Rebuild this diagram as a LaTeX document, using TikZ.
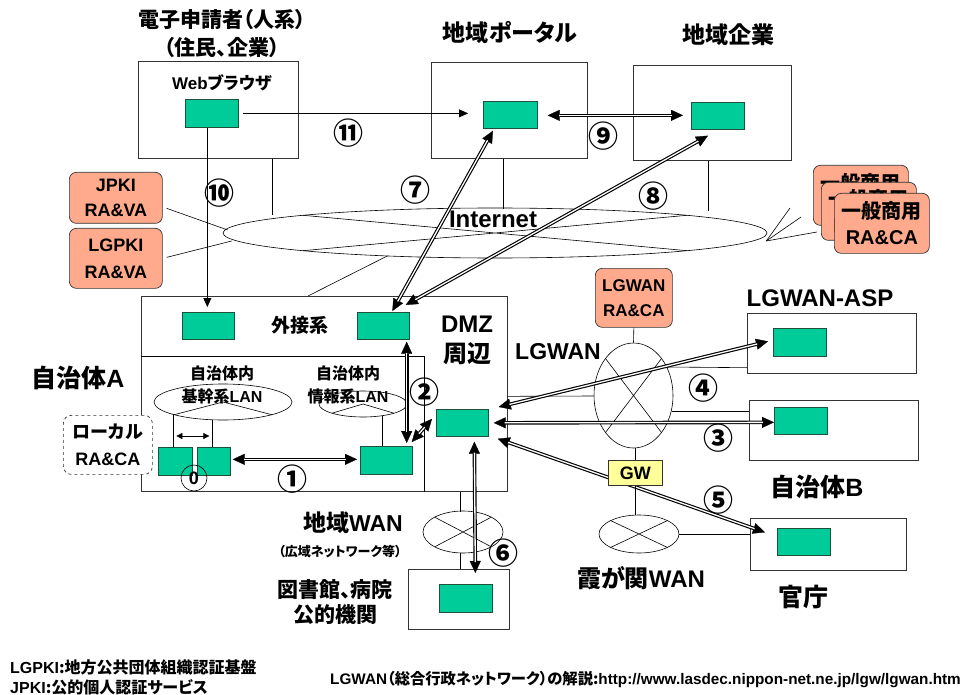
\documentclass[tikz,border=0pt]{standalone}
\usepackage{fontspec}
\setmainfont{Noto Sans CJK JP}[RawFeature=+palt]
\newfontfamily\la{Liberation Sans}
\usetikzlibrary{arrows.meta,calc,shapes.geometric}
\definecolor{grn}{RGB}{0,204,153}
\definecolor{sal}{RGB}{255,170,140}
\definecolor{ylw}{RGB}{255,255,153}
\newcommand\F[2]{\bfseries\fontsize{#1}{#2}\selectfont}
\newcommand\netx[3]{\draw[thinl] ($(#1.center)+(-#2,-#3)$) -- ($(#1.center)+(#2,#3)$) ($(#1.center)+(-#2,#3)$) -- ($(#1.center)+(#2,-#3)$);}
\begin{document}
\begin{tikzpicture}[x=1pt,y=-1pt,
  every node/.style={inner sep=0pt},
  wbox/.style={draw=black!80, line width=0.7pt, fill=white, anchor=north west},
  gbox/.style={draw={rgb,255:red,30;green,80;blue,60}, line width=0.7pt, fill=grn, anchor=north west, minimum width=53pt, minimum height=28pt},
  rbox/.style={draw=black!80, line width=0.7pt, fill=sal, rounded corners=7pt, anchor=north west, align=center},
  thinl/.style={line width=0.6pt},
  net/.style={draw, ellipse, line width=0.6pt},
  arr/.style={line width=0.7pt, -{Triangle[length=9pt,width=8pt,line width=0.3pt]}},
  dbl/.style={preaction={draw=black, line width=3.6pt, shorten <=0pt, shorten >=0pt,
      {Triangle[length=12pt,width=11pt,line width=0.3pt]}-{Triangle[length=12pt,width=11pt,line width=0.3pt]}},
    draw=white, line width=1.3pt, shorten <=11pt, shorten >=11pt},
  num/.style={font=\F{30}{30}},
  ]
\fill[white] (0,0) rectangle (961,695);
\useasboundingbox (0,0) rectangle (961,695);

% ---- Internet
\node[net, minimum width=544pt, minimum height=50pt] (inet) at (495,233) {};
\netx{inet}{192}{17.7}
\node[font=\la\F{24}{24}] (inettxt) at (493,219) {Internet};

% ---- top boxes
\node[font=\F{21}{28}, align=center] (t1) at (222,34) {電子申請者（人系）\\（住民、企業）};
\node[font=\F{23}{28}] (t2) at (510,33) {地域ポータル};
\node[font=\F{23}{28}] (t3) at (728,35) {地域企業};
\node[wbox, minimum width=160pt, minimum height=97pt] (web) at (138,61) {};
\node[font=\F{17}{20}] (wbt) at (222,83) {{\la Web}ブラウザ};
\node[gbox] (webg) at (185,99) {};
\node[wbox, minimum width=156pt, minimum height=96pt] (portal) at (431,62) {};
\node[gbox, minimum width=54pt, minimum height=27pt] (portalg) at (483,101) {};
\node[wbox, minimum width=158pt, minimum height=95pt] (ent) at (633,65) {};
\node[gbox, minimum height=27pt] (entg) at (691,102) {};

\draw[thinl] ($(web.south west)+(134,0)$) -- +(0,56);
\draw[thinl] ($(portal.south west)+(72,0)$) -- +(0,50);
\draw[thinl] ($(ent.south west)+(75,0)$) -- +(0,50);

% ---- PKI boxes
\node[rbox, minimum width=93pt, minimum height=51pt, font=\la\F{18}{25}] (jpki) at (69,172) {JPKI\\RA\&VA};
\node[rbox, minimum width=93pt, minimum height=60pt, font=\la\F{18}{27}] (lgpki) at (69,228) {LGPKI\\RA\&VA};
\draw[thinl] ($(jpki.east)+(4,10.5)$) -- ($(inet.west)+(5,-3)$);
\draw[thinl] ($(lgpki.east)+(4,-1)$) -- ($(inet.west)+(9,8)$);

% ---- commercial CA
\coordinate (fanA) at ($(inet.east)+(-1,8)$);
\draw[thinl] (fanA) -- (790,208);
\draw[thinl] (fanA) -- (801,217);
\draw[thinl] (fanA) -- (817,232);
\node[rbox, minimum width=95pt, minimum height=60pt, font=\F{20}{26}] (c1) at (813,165) {一般商用\\{\la RA\&CA}};
\node[rbox, minimum width=95pt, minimum height=58pt, font=\F{20}{26}] (c2) at (821,182) {一般商用\\{\la RA\&CA}};
\node[rbox, minimum width=95pt, minimum height=60pt, font=\F{20}{26}] (c3) at (834,193) {一般商用\\{\la RA\&CA}};

% ---- Jichitai A
\node[wbox, minimum width=366pt, minimum height=195pt] (ja) at (141,296) {};
\draw[thinl] ($(inet.south west)+(85,0)$) ++(0,5) -- ($(ja.north west)+(167,0)$);
\draw[thinl] ($(ja.north west)+(0,60)$) -- ($(ja.north west)+(283,60)$) -- ($(ja.south west)+(283,0)$);
\node[gbox, minimum width=52pt, minimum height=27pt] (gL) at (182,312) {};
\node[gbox, minimum width=52pt, minimum height=27pt] (gR) at (357,312) {};
\node[font=\F{19}{19}] (gais) at (300,325) {外接系};
\node[font=\F{25}{25}] (jatxt) at (78,378) {自治体{\la A}};
\node[font=\F{24}{30}, align=center] (dmz) at (467,340) {{\la DMZ}\\周辺};

\node[net, minimum width=138pt, minimum height=36pt] (lan1) at (223,402) {};
\draw[thinl] ($(lan1.center)+(-48.8,12.7)$) -- (lan1.center) -- ($(lan1.center)+(48.8,12.7)$);
\node[net, minimum width=88pt, minimum height=26pt] (lan2) at (363,404) {};
\draw[thinl] ($(lan2.center)+(-31,9.2)$) -- (lan2.center) -- ($(lan2.center)+(31,9.2)$);
\node[font=\F{16}{23}, align=center] (lan1t) at (222,385) {自治体内\\基幹系{\la LAN}};
\node[font=\F{16}{23}, align=center] (lan2t) at (348,385) {自治体内\\情報系{\la LAN}};

\node[gbox, minimum width=34pt, minimum height=28pt] (ga) at (158,447) {};
\node[gbox, minimum width=33pt, minimum height=28pt] (gb) at (197,447) {};
\node[gbox, minimum width=52pt, minimum height=28pt] (info) at (360,446) {};
\node[gbox, minimum width=52pt, minimum height=27pt] (dmzg) at (436,409) {};
\draw[thinl] ($(ga.north)+(-2,0)$) -- +(0,-33);
\draw[thinl] ($(gb.north)+(-1.5,0)$) -- +(0,-27);
\draw[thinl] ($(info.north)+(-4,0)$) -- +(0,-30);
\draw[line width=0.7pt, {Triangle[length=6pt,width=6pt]}-{Triangle[length=6pt,width=6pt]}] ($(ga.north)+(1,-11)$) -- ($(gb.north)+(-4.5,-11)$);
\node[draw, circle, minimum size=26pt, line width=0.6pt, font=\la\F{18}{18}] (z0) at (194,478) {0};

\node[draw=black!80, dashed, line width=0.7pt, rounded corners=8pt, fill=white, anchor=north west, minimum width=89pt, minimum height=59pt, align=center, font=\F{18}{27}] (loc) at (63,415) {ローカル\\{\la RA\&CA}};

% ---- LGWAN side
\node[rbox, minimum width=77pt, minimum height=59pt, font=\la\F{17}{25}] (lgra) at (595,268) {LGWAN\\RA\&CA};
\node[net, minimum width=79pt, minimum height=105pt] (lgwan) at (633.5,395.5) {};
\netx{lgwan}{28}{37}
\draw[thinl] (lgra.south) -- (lgwan.north);
\node[font=\la\F{23}{23}] (lgwt) at (558,352) {LGWAN};
\draw[thinl] ($(ja.east)+(0,2.5)$) -- ($(lgwan.west)+(0,0.5)$);

\node[font=\la\F{24}{24}] (aspt) at (820,298) {LGWAN-ASP};
\node[wbox, minimum width=169pt, minimum height=60pt] (asp) at (747,313) {};
\node[gbox] (aspg) at (773,328) {};
\node[wbox, minimum width=169pt, minimum height=60pt] (jb) at (749,400) {};
\node[gbox, minimum height=27pt] (jbg) at (774,407) {};
\node[font=\F{25}{25}] (jbt) at (817,487) {自治体{\la B}};
\draw[thinl] ($(lgwan.center)+(33,-28.5)$) -- ($(asp.south west)+(0,-6)$);
\draw[thinl] ($(lgwan.center)+(38,15.5)$) -- ($(jb.north west)+(0,11)$);

\node[net, minimum width=80pt, minimum height=38pt] (kas) at (639,534) {};
\netx{kas}{28.3}{13.4}
\node[font=\F{24}{24}] (kast) at (641,578) {霞が関{\la WAN}};
\node[wbox, minimum width=156pt, minimum height=52pt] (kan) at (750,518) {};
\node[gbox, minimum height=27pt] (kang) at (777,528) {};
\node[font=\F{25}{25}] (kant) at (803,597) {官庁};
\draw[thinl] (kas.east) -- (kas.east -| kan.west);

% ---- regional WAN / library
\node[net, minimum width=80pt, minimum height=42pt] (wan1) at (463,532) {};
\netx{wan1}{28.3}{14.8}
\node[font=\F{23}{23}] (wan1t) at (353,523) {地域{\la WAN}};
\node[font=\F{13}{13}] (wan1s) at (340,552) {（広域ネットワーク等）};
\node[wbox, minimum width=101pt, minimum height=60pt] (lib) at (408,569) {};
\node[gbox] (libg) at (439,584) {};
\node[font=\F{21}{25}, align=center] (libt) at (335,602) {図書館、病院\\公的機関};
\draw[thinl] ($(ja.south west)+(319,0)$) -- +(0,20);
\draw[thinl] ($(lib.north west)+(52,0)$) -- +(0,-16);

% ---- arrows
\draw[arr, line width=0.8pt] ($(webg.east)+(4,0)$) -- ($(portalg.west)+(-15,-1.5)$);
\draw[arr, line width=0.8pt] ($(webg.south)+(-4.5,0)$) -- ($(gL.north)+(-1,-5)$);
\draw[dbl] ($(portalg.east)+(10,0.5)$) -- ($(entg.west)+(-8,-0.5)$);
\draw[dbl] ($(gR.north)+(9,-1)$) -- ($(portalg.south west)+(10,2)$);
\draw[dbl] ($(gR.north east)+(-4,-7)$) -- ($(entg.south west)+(17,6)$);
\draw[dbl] ($(gR.south east)+(-3,2)$) -- ($(info.north east)+(-6,-3)$);
\draw[dbl] ($(info.north east)+(-1,-4)$) -- ($(dmzg.west)+(-4,-4)$);
\draw[dbl] ($(gb.east)+(2,-2)$) -- ($(info.west)+(-3,-1)$);
\draw[dbl] ($(dmzg.north east)+(10,-2)$) -- ($(aspg.west)+(-5,-1)$);
\draw[dbl] ($(dmzg.east)+(5,0)$) -- ($(jbg.west)+(0,1.5)$);
\draw[dbl] ($(dmzg.south east)+(9,2)$) -- ($(kang.west)+(-12,-9.5)$);
\draw[dbl] ($(dmzg.south)+(12,5)$) -- ($(lib.north)+(16.5,4)$);

% ---- GW
\draw[thinl] (lgwan.south -| 635,0) -- (635,460);
\node[draw=black!80, line width=0.7pt, fill=ylw, anchor=north west, minimum width=54pt, minimum height=25pt, font=\la\F{18}{18}] (gw) at (608,460) {GW};
\draw[thinl] (gw.south) -- (gw.south |- kas.north);

% ---- numbers
\node[num] (n11) at (348,133) {⑪};
\node[num] (n10) at (219,193) {⑩};
\node[num] (n7) at (415,190) {⑦};
\node[num] (n8) at (653,196) {⑧};
\node[num] (n9) at (603,136) {⑨};
\node[num] (n2) at (424,392) {②};
\node[num] (n1) at (292,479) {①};
\node[num] (n4) at (703,388) {④};
\node[num] (n3) at (718,438) {③};
\node[num] (n5) at (718,500) {⑤};
\node[num] (n6) at (503,553) {⑥};

% ---- footer
\node[anchor=west, align=left, font=\F{16}{20}] (foot1) at (10,677) {{\la LGPKI}:地方公共団体組織認証基盤\\{\la JPKI}:公的個人認証サービス};
\node[anchor=west, font=\F{15.3}{15.3}] (foot2) at (330,680) {{\la LGWAN}（総合行政ネットワーク）の解説:{\la http://www.lasdec.nippon-net.ne.jp/lgw/lgwan.htm}};
\end{tikzpicture}
\end{document}
